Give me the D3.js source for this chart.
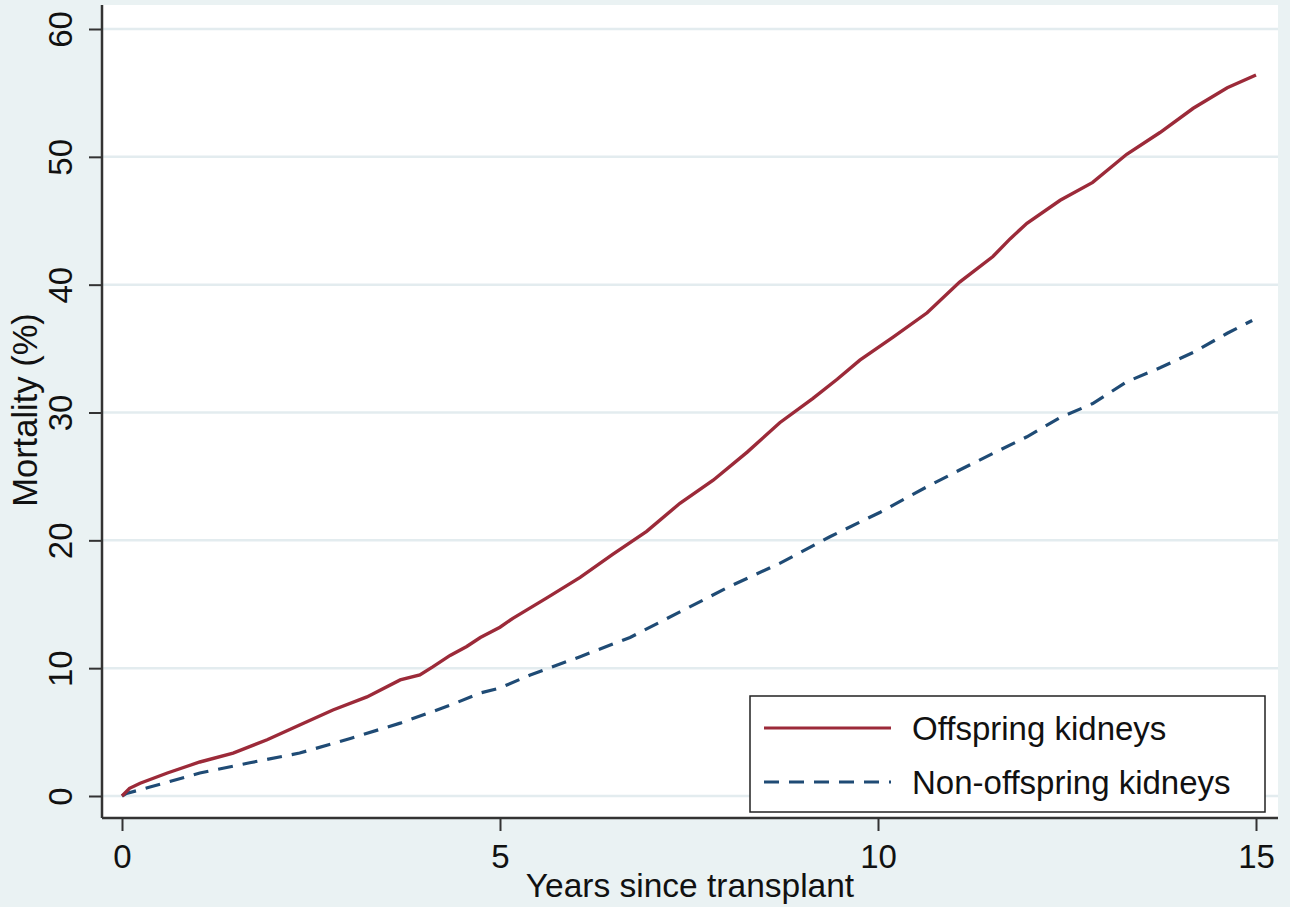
<!DOCTYPE html>
<html>
<head>
<meta charset="utf-8">
<script src="https://cdnjs.cloudflare.com/ajax/libs/d3/7.8.5/d3.min.js"></script>
<style>
  body { margin: 0; background: #eaf2f3; }
  text { font-family: "Liberation Sans", Arial, sans-serif; fill: #111; }
</style>
</head>
<body>
<div id="chart"></div>
<script>
// Data
var offspringYears = [0, 0.1, 0.24, 0.6, 1.03, 1.47, 1.92, 2.35, 2.79, 3.24, 3.68, 3.94, 4.11, 4.34, 4.56, 4.74, 5.0, 5.17, 5.62, 6.06, 6.49, 6.94, 7.38, 7.82, 8.27, 8.7, 9.14, 9.46, 9.76, 10.2, 10.65, 11.08, 11.52, 11.75, 11.97, 12.41, 12.84, 13.29, 13.73, 14.17, 14.62, 15.0];
var offspringMortality = [0, 0.6, 1.0, 1.8, 2.66, 3.36, 4.4, 5.56, 6.73, 7.75, 9.08, 9.47, 10.1, 11.0, 11.7, 12.4, 13.2, 13.9, 15.5, 17.1, 18.9, 20.7, 22.9, 24.7, 26.9, 29.2, 31.1, 32.6, 34.1, 35.9, 37.8, 40.2, 42.2, 43.6, 44.8, 46.6, 48.0, 50.2, 51.9, 53.8, 55.4, 56.4];

var nonOffspringYears = [0, 0.06, 0.37, 1.03, 1.69, 2.35, 3.02, 3.68, 4.34, 4.74, 5.0, 5.4, 6.06, 6.72, 7.38, 8.04, 8.7, 9.37, 10.03, 10.65, 11.08, 11.52, 11.97, 12.41, 12.84, 13.29, 13.73, 14.17, 14.62, 14.95];
var nonOffspringMortality = [0, 0.2, 0.7, 1.8, 2.6, 3.36, 4.5, 5.7, 7.1, 8.06, 8.45, 9.47, 10.9, 12.4, 14.4, 16.4, 18.2, 20.3, 22.2, 24.2, 25.5, 26.8, 28.1, 29.6, 30.7, 32.4, 33.5, 34.7, 36.2, 37.2];

var xTicks = [0, 5, 10, 15];
var yTicks = [0, 10, 20, 30, 40, 50, 60];
var seriesNames = ["Offspring kidneys", "Non-offspring kidneys"];

var svgWidth = 1290;
var svgHeight = 907;

// plot region (white area)
var plot = { left: 102, right: 1278, top: 5, bottom: 818 };

var svg = d3.select("#chart")
  .append("svg")
  .attr("width", svgWidth)
  .attr("height", svgHeight);

svg.append("rect")
  .attr("width", svgWidth)
  .attr("height", svgHeight)
  .attr("fill", "#eaf2f3");

svg.append("rect")
  .attr("x", plot.left)
  .attr("y", plot.top)
  .attr("width", plot.right - plot.left)
  .attr("height", plot.bottom - plot.top)
  .attr("fill", "#ffffff");

// Scales
var xScale = d3.scaleLinear().domain([0, 15]).range([122, 1256]);
var yScale = d3.scaleLinear().domain([0, 60]).range([796, 29]);

// Gridlines
svg.append("g")
  .selectAll("line")
  .data(yTicks)
  .enter()
  .append("line")
  .attr("x1", plot.left)
  .attr("x2", plot.right)
  .attr("y1", d => yScale(d))
  .attr("y2", d => yScale(d))
  .attr("stroke", "#e3ecef")
  .attr("stroke-width", 2.5);

// Axes
var bottomAxis = d3.axisBottom(xScale).tickValues(xTicks).tickSize(13).tickPadding(14).tickSizeOuter(0);
var leftAxis = d3.axisLeft(yScale).tickValues(yTicks).tickSize(13).tickSizeOuter(0);

var xAxisGroup = svg.append("g")
  .attr("transform", `translate(0, ${plot.bottom})`)
  .call(bottomAxis);
xAxisGroup.select(".domain").remove();
xAxisGroup.selectAll("line").attr("stroke", "#333").attr("stroke-width", 2);
xAxisGroup.selectAll("text")
  .style("font-size", "33px")
  .style("font-family", "'Liberation Sans', Arial, sans-serif")
  .attr("fill", "#111");

var yAxisGroup = svg.append("g")
  .attr("transform", `translate(${plot.left}, 0)`)
  .call(leftAxis);
yAxisGroup.select(".domain").remove();
yAxisGroup.selectAll("line").attr("stroke", "#333").attr("stroke-width", 2);
yAxisGroup.selectAll("text")
  .attr("x", null)
  .attr("dy", null)
  .attr("text-anchor", "middle")
  .attr("transform", "translate(-30, 0) rotate(-90)")
  .style("font-size", "33px")
  .style("font-family", "'Liberation Sans', Arial, sans-serif")
  .attr("fill", "#111");

// axis lines
svg.append("line")
  .attr("x1", plot.left).attr("x2", plot.left)
  .attr("y1", plot.top).attr("y2", plot.bottom)
  .attr("stroke", "#333").attr("stroke-width", 2.5);
svg.append("line")
  .attr("x1", plot.left).attr("x2", plot.right)
  .attr("y1", plot.bottom).attr("y2", plot.bottom)
  .attr("stroke", "#333").attr("stroke-width", 2.5);

// Lines
var line = d3.line()
  .x(d => xScale(d[0]))
  .y(d => yScale(d[1]));

var offspringData = d3.zip(offspringYears, offspringMortality);
var nonOffspringData = d3.zip(nonOffspringYears, nonOffspringMortality);

svg.append("path")
  .datum(nonOffspringData)
  .attr("d", line)
  .attr("fill", "none")
  .attr("stroke", "#1f4b75")
  .attr("stroke-width", 3.2)
  .attr("stroke-dasharray", "15 10");

svg.append("path")
  .datum(offspringData)
  .attr("d", line)
  .attr("fill", "none")
  .attr("stroke", "#9c2a39")
  .attr("stroke-width", 3.4);

// Axis titles
svg.append("text")
  .attr("x", (plot.left + plot.right) / 2)
  .attr("y", 897)
  .attr("text-anchor", "middle")
  .style("font-size", "33.5px")
  .text("Years since transplant");

svg.append("text")
  .attr("transform", `translate(37, 410) rotate(-90)`)
  .attr("text-anchor", "middle")
  .style("font-size", "34.5px")
  .text("Mortality (%)");

// Legend
var legend = svg.append("g");
legend.append("rect")
  .attr("x", 750)
  .attr("y", 696)
  .attr("width", 515)
  .attr("height", 116)
  .attr("fill", "#ffffff")
  .attr("stroke", "#222")
  .attr("stroke-width", 1.5);

var legendColors = ["#9c2a39", "#1f4b75"];
var legendDash = [null, "15 10"];

legend.selectAll(".key")
  .data(seriesNames)
  .enter()
  .append("line")
  .attr("x1", 764)
  .attr("x2", 891)
  .attr("y1", (d, i) => 728 + i * 54)
  .attr("y2", (d, i) => 728 + i * 54)
  .attr("stroke", (d, i) => legendColors[i])
  .attr("stroke-width", 3)
  .attr("stroke-dasharray", (d, i) => legendDash[i]);

legend.selectAll(".label")
  .data(seriesNames)
  .enter()
  .append("text")
  .attr("x", 912)
  .attr("y", (d, i) => 740 + i * 54)
  .style("font-size", "33px")
  .text(d => d);
</script>
</body>
</html>
